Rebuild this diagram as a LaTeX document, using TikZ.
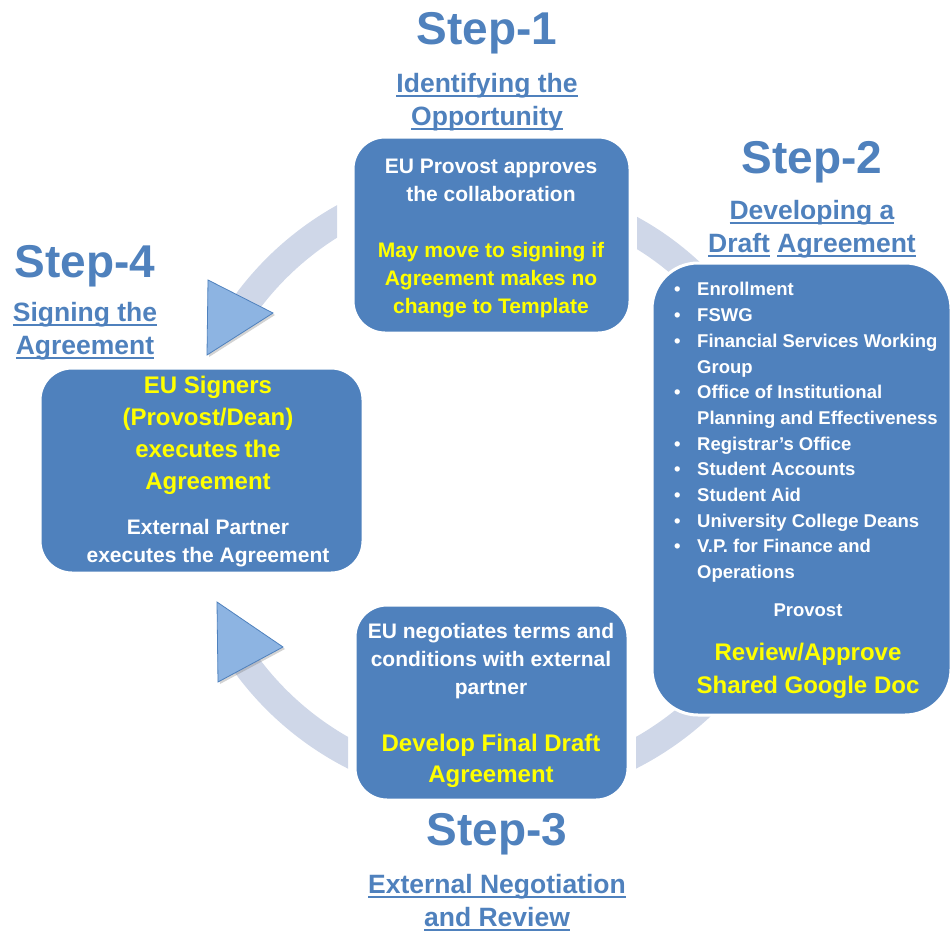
\documentclass[tikz,border=0pt]{standalone}
\usepackage{fontspec}
\setmainfont{Liberation Sans}
\usetikzlibrary{shadows}

\definecolor{boxblue}{RGB}{79,129,189}
\definecolor{ringgray}{RGB}{207,215,232}
\definecolor{headblue}{RGB}{141,180,226}
\definecolor{titleblue}{RGB}{79,129,189}
\definecolor{noteyellow}{RGB}{255,255,0}

\newsavebox{\namebox}
\newcommand{\namerule}[1]{\sbox{\namebox}{#1}\rlap{\rule[-4pt]{\wd\namebox}{1.8pt}}\usebox{\namebox}}
\newcommand{\itm}{\makebox[23pt][l]{\textbullet}}
\newcommand{\itmgap}{\hspace*{23pt}}

\tikzset{
  stepbox/.style={fill=boxblue, draw=white, line width=3pt, inner sep=0pt},
  steptitle/.style={text=titleblue, font=\bfseries\fontsize{46}{50}\selectfont, inner sep=0pt, anchor=north},
  stepname/.style={text=titleblue, font=\bfseries\fontsize{26.5}{33}\selectfont, inner sep=0pt, anchor=north, align=center},
  ring/.style={ringgray, line width=28pt},
  arrowhead/.style={fill=headblue, draw=boxblue, line width=0.8pt, drop shadow={opacity=0.35, shadow xshift=2pt, shadow yshift=-2pt}},
  whitetext/.style={text=white, font=\bfseries\fontsize{21}{28}\selectfont, inner sep=0pt, anchor=north, align=center},
  yellowtext/.style={text=noteyellow, font=\bfseries\fontsize{24}{32}\selectfont, inner sep=0pt, anchor=north, align=center},
  listtext/.style={text=white, font=\bfseries\fontsize{18.5}{25.7}\selectfont, inner sep=0pt, anchor=north west, align=left}
}

\begin{document}
\begin{tikzpicture}[x=1pt, y=-1pt]
    \useasboundingbox (0,0) rectangle (951,932);

    % --- 1. 순환 화살표 ---
    \def\ringR{305}
    \coordinate (ctr) at (492,484);
    \begin{scope}
        \clip (0,0) rectangle (337,484);
        \draw[ring] (ctr) ++(-115:\ringR) arc[start angle=-115, end angle=-145, radius=\ringR];
    \end{scope}
    \begin{scope}
        \clip (0,484) rectangle (348,932);
        \draw[ring] (ctr) ++(115:\ringR) arc[start angle=115, end angle=145, radius=\ringR];
    \end{scope}
    \begin{scope}
        \clip (637,0) rectangle (951,484);
        \draw[ring] (ctr) ++(-66:290) arc[start angle=-66, end angle=-36, radius=290];
    \end{scope}
    \begin{scope}
        \clip (636,484) rectangle (951,932);
        \draw[ring] (ctr) ++(66:\ringR) arc[start angle=66, end angle=36, radius=\ringR];
    \end{scope}

    % 화살촉
    \filldraw[arrowhead] (208,280) -- (273,313) -- (207,355) -- cycle;
    \filldraw[arrowhead] (217,602) -- (283,647) -- (218,682) -- cycle;

    % --- 2. 단계 상자 ---
    \node[stepbox, rounded corners=32pt, minimum width=277pt, minimum height=196pt] (idbox) at (491.5,235) {};
    \node[stepbox, rounded corners=46pt, minimum width=299pt, minimum height=452pt] (draftbox) at (801.5,489) {};
    \node[stepbox, rounded corners=32pt, minimum width=273pt, minimum height=195pt] (negobox) at (491.5,702.5) {};
    \node[stepbox, rounded corners=32pt, minimum width=323pt, minimum height=205pt] (signbox) at (201.5,470.5) {};

    % Step-1
    \node[whitetext] (idnote) at (491,158.4) {EU Provost approves\\the collaboration};
    \node[whitetext, text=noteyellow] (idmove) at (491,242.4) {May move to signing if\\Agreement makes no\\change to Template};

    % Step-2
    \node[listtext] (reviewers) at (674,282.3) {\itm Enrollment\\
        \itm FSWG\\
        \itm Financial Services Working\\
        \itmgap Group\\
        \itm Office of Institutional\\
        \itmgap Planning and Effectiveness\\
        \itm Registrar's Office\\
        \itm Student Accounts\\
        \itm Student Aid\\
        \itm University College Deans\\
        \itm V.P. for Finance and\\
        \itmgap Operations};
    \node[whitetext, font=\bfseries\fontsize{18.5}{26}\selectfont] (provost) at (808,603.3) {Provost};
    \node[yellowtext, font=\bfseries\fontsize{24}{33}\selectfont] (review) at (808,643.4) {Review/Approve\\Shared Google Doc};

    % Step-3
    \node[whitetext] (negotext) at (491,623.4) {EU negotiates terms and\\conditions with external\\partner};
    \node[yellowtext, font=\bfseries\fontsize{24}{31}\selectfont] (finaldraft) at (491,733.4) {Develop Final Draft\\Agreement};

    % Step-4
    \node[yellowtext] (signexec) at (208,376.4) {EU Signers\\(Provost/Dean)\\executes the\\Agreement};
    \node[whitetext] (partnerexec) at (208,519.4) {External Partner\\executes the Agreement};

    % --- 3. 단계 제목 ---
    \node[steptitle] (step1) at (487,12) {Step-1};
    \node[stepname] (step1name) at (487,73.5) {\namerule{Identifying the}\\\namerule{Opportunity}};
    \node[steptitle] (step2) at (812,141) {Step-2};
    \node[stepname] (step2name) at (812,200.5) {\namerule{Developing a}\\\namerule{Draft} \namerule{Agreement}};
    \node[steptitle] (step4) at (85,245) {Step-4};
    \node[stepname] (step4name) at (85,302.5) {\namerule{Signing the}\\\namerule{Agreement}};
    \node[steptitle] (step3) at (497,813) {Step-3};
    \node[stepname] (step3name) at (497,874.5) {\namerule{External Negotiation}\\\namerule{and Review}};
\end{tikzpicture}
\end{document}
